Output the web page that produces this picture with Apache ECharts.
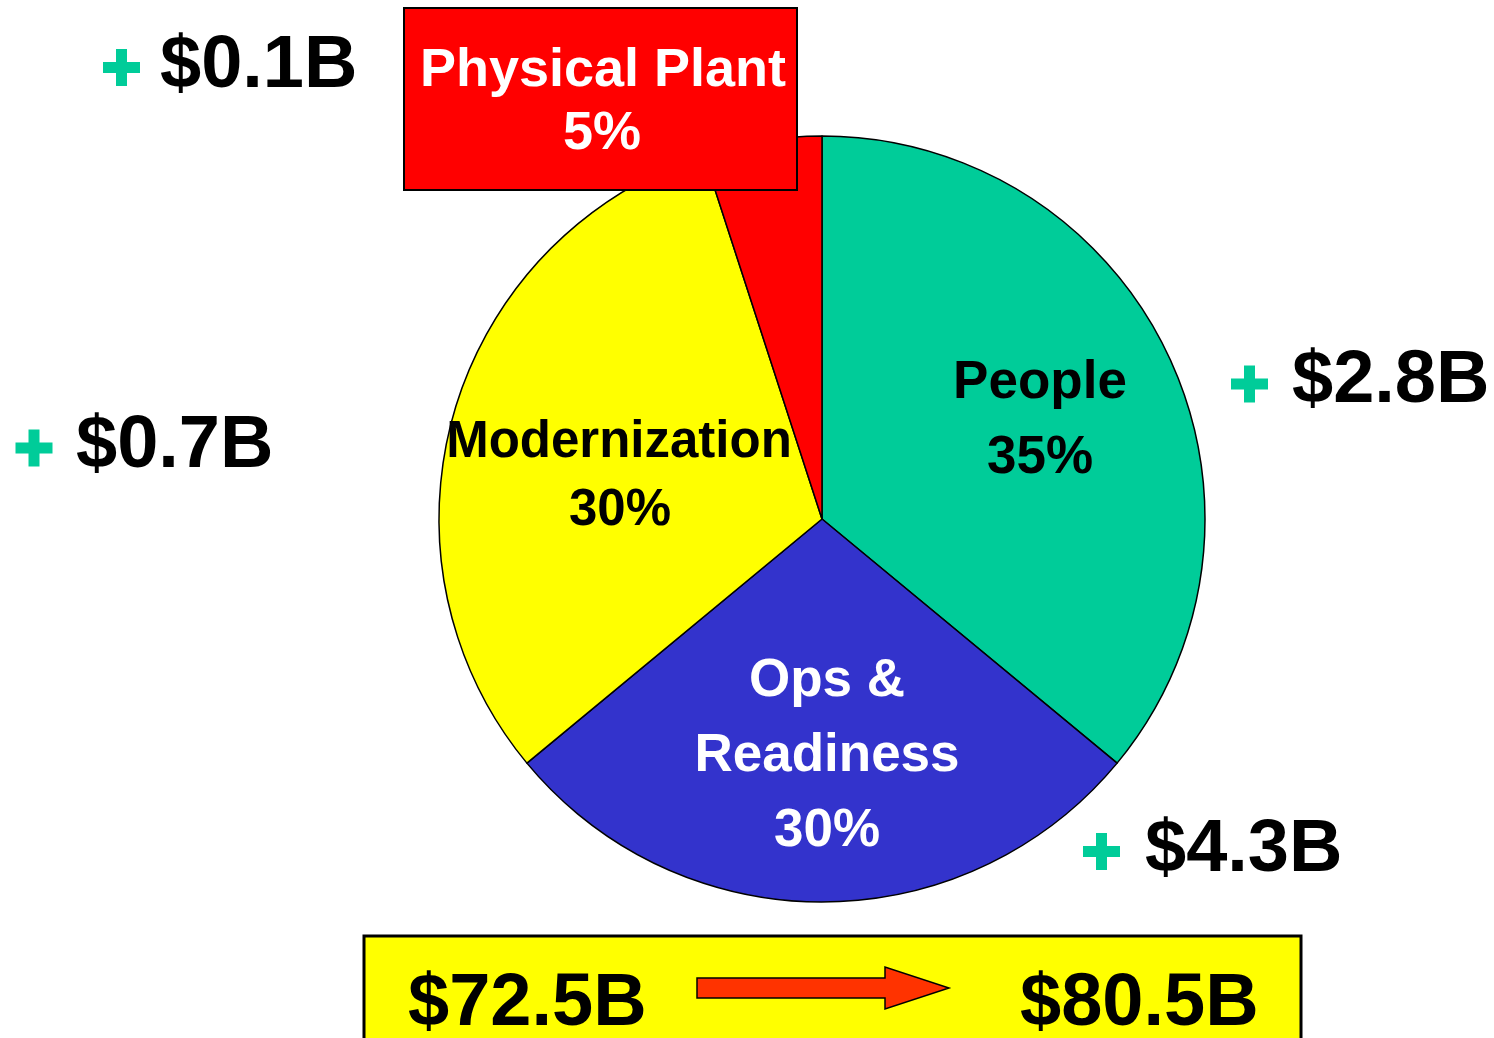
<!DOCTYPE html>
<html>
<head>
<meta charset="utf-8">
<script src="https://cdn.jsdelivr.net/npm/echarts@6/dist/echarts.min.js"></script>
<style>
html,body{margin:0;padding:0;background:#fff;}
#chart{width:1494px;height:1038px;}
</style>
</head>
<body>
<div id="chart"></div>
<script>
// ---- data ----
var categories = ['People', 'Ops & Readiness', 'Modernization', 'Physical Plant'];
var shares = [36, 28, 31, 5];              // slice sizes as drawn
var pctLabels = ['35%', '30%', '30%', '5%'];
var increases = ['$2.8B', '$4.3B', '$0.7B', '$0.1B'];
var totals = ['$72.5B', '$80.5B'];
var sliceColors = ['#00CC99', '#3333CC', '#FFFF00', '#FF0000'];

var FONT = '"Liberation Sans", Arial, sans-serif';
function txt(s, x, y, size, color, align) {
  return {
    type: 'text', z: 100,
    style: {
      text: s, x: x, y: y,
      font: 'bold ' + size + 'px ' + FONT,
      fill: color,
      textAlign: align || 'center', textVerticalAlign: 'middle',
      align: align || 'center', verticalAlign: 'middle'
    }
  };
}
function plus(cx, cy) {
  var w = 37, t = 11;
  return [
    {type: 'rect', z: 100, shape: {x: cx - w / 2, y: cy - t / 2, width: w, height: t}, style: {fill: '#00CC99'}},
    {type: 'rect', z: 100, shape: {x: cx - t / 2, y: cy - w / 2, width: t, height: w}, style: {fill: '#00CC99'}}
  ];
}

var chart = echarts.init(document.getElementById('chart'));
var g = [];
// slice labels
g.push(txt(categories[0], 1040, 383, 53, '#000'));
g.push(txt(pctLabels[0], 1040, 458, 53, '#000'));
g.push(txt('Ops &', 827, 681, 53, '#fff'));
g.push(txt('Readiness', 827, 756, 53, '#fff'));
g.push(txt(pctLabels[1], 827, 831, 53, '#fff'));
g.push(txt(categories[2], 619, 443, 51, '#000'));
g.push(txt(pctLabels[2], 620, 511, 51, '#000'));
// Physical plant box
g.push({type: 'rect', z: 90, shape: {x: 404, y: 8, width: 393, height: 182},
  style: {fill: '#FF0000', stroke: '#000', lineWidth: 2}});
g.push(txt(categories[3], 603, 71, 54, '#fff'));
g.push(txt(pctLabels[3], 602, 134, 54, '#fff'));
// increases
g = g.concat(plus(1249.5, 384)); g.push(txt(increases[0], 1292, 382, 74, '#000', 'left'));
g = g.concat(plus(1101.5, 851.5)); g.push(txt(increases[1], 1145, 851, 74, '#000', 'left'));
g = g.concat(plus(34, 448)); g.push(txt(increases[2], 76, 447, 74, '#000', 'left'));
g = g.concat(plus(121.5, 67.5)); g.push(txt(increases[3], 160, 67, 74, '#000', 'left'));
// totals box
g.push({type: 'rect', z: 90, shape: {x: 364, y: 936, width: 937, height: 130},
  style: {fill: '#FFFF00', stroke: '#000', lineWidth: 3}});
g.push({type: 'polygon', z: 100, shape: {points: [[697,978],[885,978],[885,967],[949,988],[885,1009],[885,998],[697,998]]},
  style: {fill: '#FF3300', stroke: '#000', lineWidth: 1.5}});
g.push(txt(totals[0], 408, 1005, 74, '#000', 'left'));
g.push(txt(totals[1], 1020, 1005, 74, '#000', 'left'));

chart.setOption({
  animation: false,
  backgroundColor: '#ffffff',
  series: [{
    type: 'pie',
    center: [822, 519],
    radius: 383,
    startAngle: 90,
    clockwise: true,
    avoidLabelOverlap: false,
    label: {show: false},
    labelLine: {show: false},
    emphasis: {disabled: true},
    itemStyle: {borderColor: '#000', borderWidth: 1.5},
    data: categories.map(function (c, i) {
      return {name: c, value: shares[i], itemStyle: {color: sliceColors[i]}};
    })
  }],
  graphic: {elements: g}
});
</script>
</body>
</html>
